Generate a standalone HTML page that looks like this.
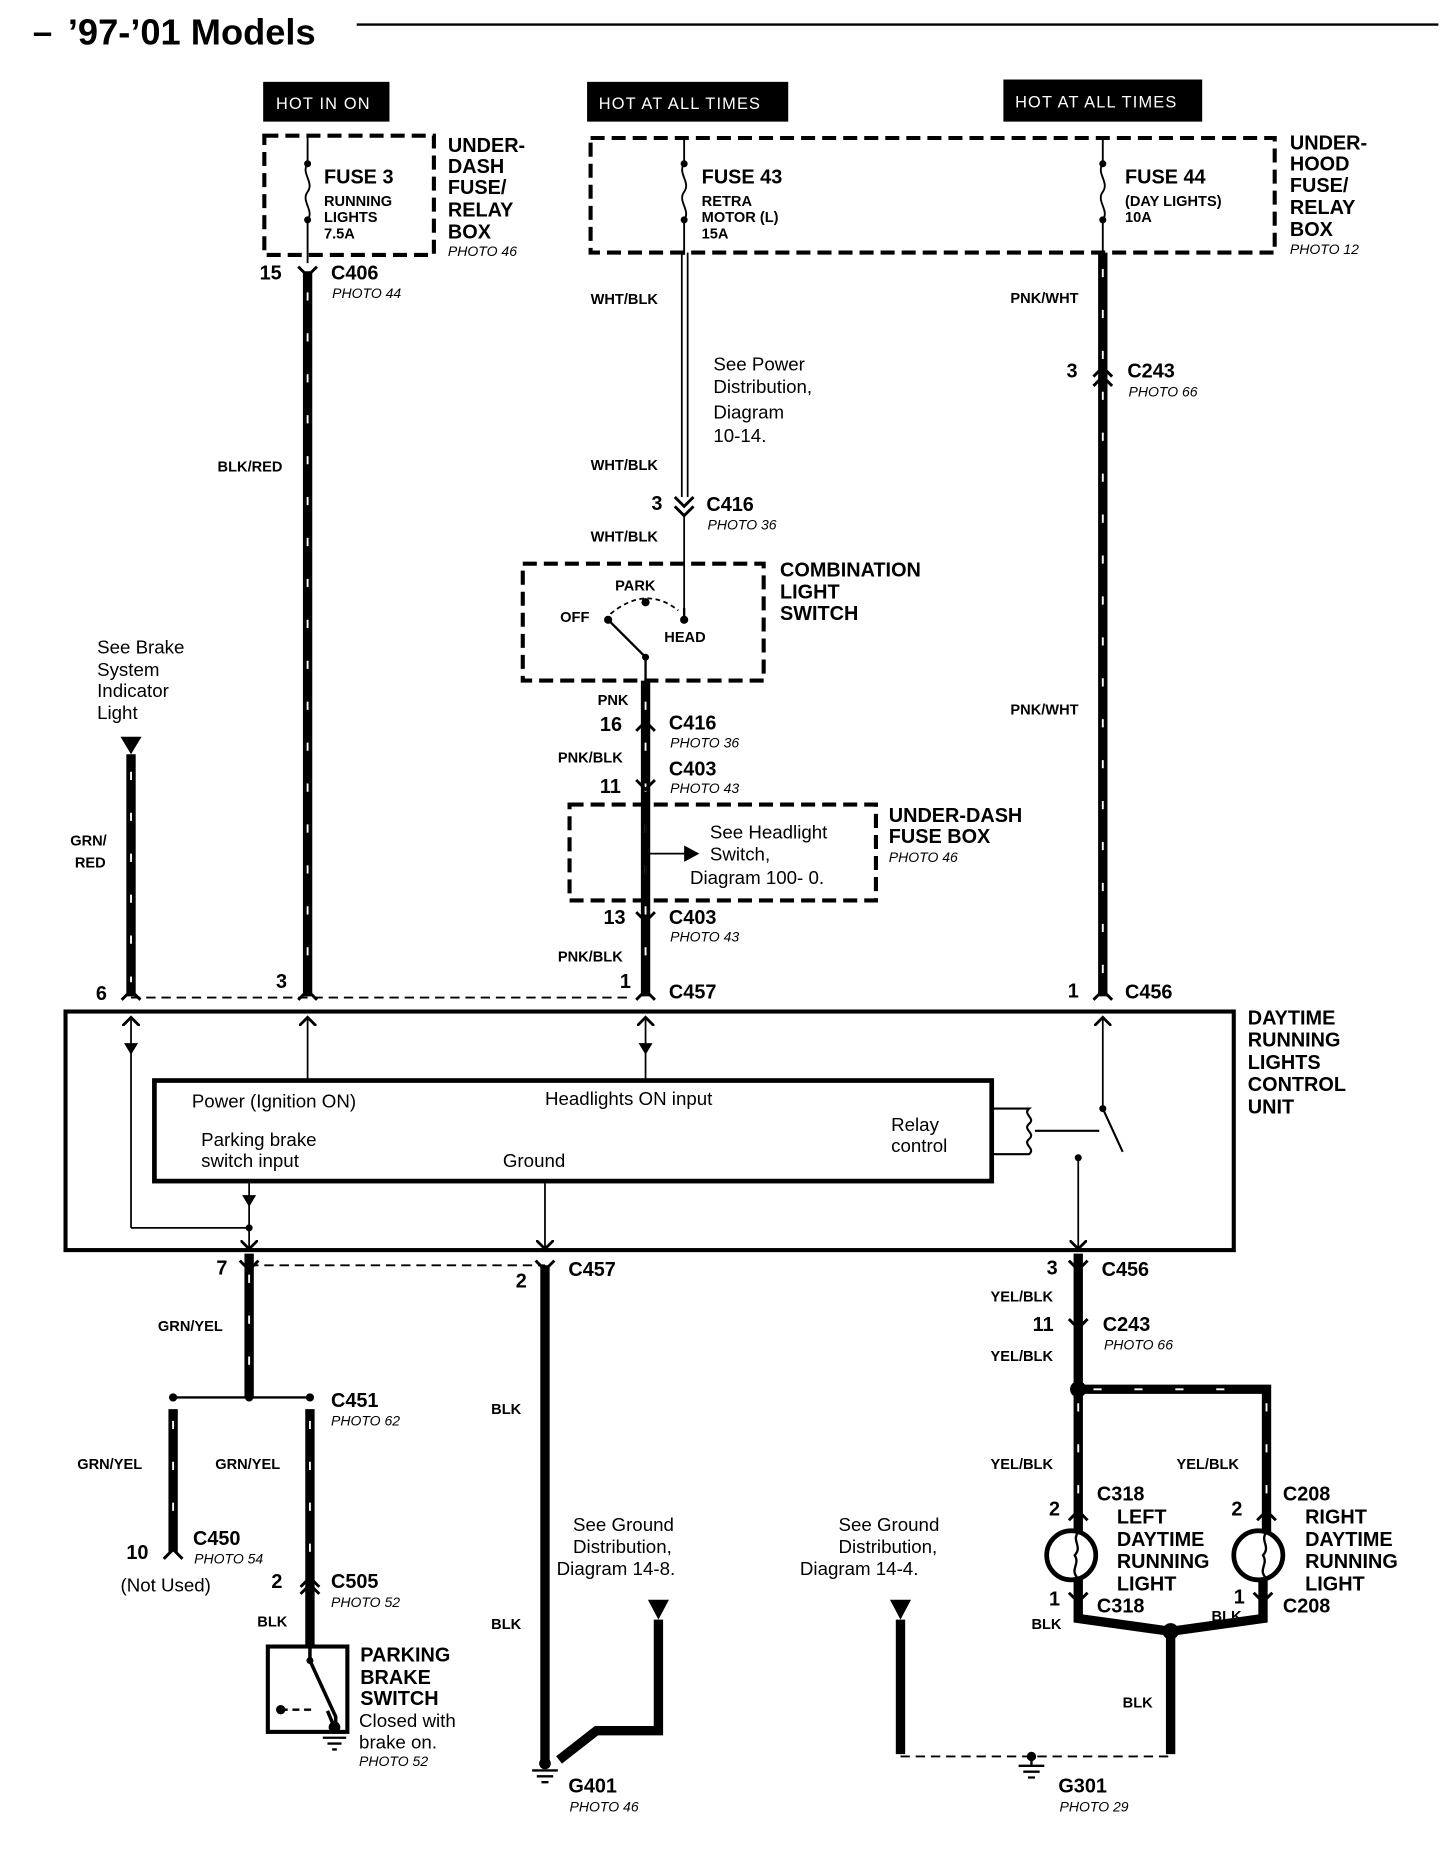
<!DOCTYPE html>
<html><head><meta charset="utf-8"><style>
html,body{margin:0;padding:0;background:#fff;}
svg{display:block;}
text{font-family:"Liberation Sans",Arial,sans-serif;fill:#000;}
.b{font-weight:bold;}
.h{font-size:17px;font-weight:bold;}
.s{font-size:12.5px;font-weight:bold;}
.p{font-size:12px;font-style:italic;}
.n{font-size:16px;}
.w{fill:#fff;font-size:14px;letter-spacing:1px;}
</style></head><body>
<svg width="1456" height="1850" viewBox="0 0 1245 1582" xmlns="http://www.w3.org/2000/svg">
<defs>
<marker id="ar" viewBox="0 0 10 10" refX="5" refY="5" markerWidth="10" markerHeight="10" orient="auto"><path d="M0,0 L5,5 L0,10" fill="none" stroke="#000" stroke-width="1.6"/></marker>
</defs>
<!-- title -->
<text x="28" y="37" font-size="30" class="b">–</text>
<text x="58" y="38" font-size="31" class="b">’97-’01 Models</text>
<line x1="305" y1="21" x2="1230" y2="21" stroke="#000" stroke-width="2"/>
<!-- hot labels -->
<rect x="225" y="70" width="108" height="34" fill="#000"/><text class="w" x="236" y="93">HOT IN ON</text>
<rect x="502" y="70" width="172" height="34" fill="#000"/><text class="w" x="512" y="93">HOT AT ALL TIMES</text>
<rect x="858" y="68" width="170" height="36" fill="#000"/><text class="w" x="868" y="92">HOT AT ALL TIMES</text>
<!-- fuse boxes -->
<g fill="none" stroke="#000" stroke-width="3.5" stroke-dasharray="12 6">
<rect x="226" y="116" width="145" height="102"/>
<rect x="505" y="118" width="585" height="98"/>
<rect x="447" y="482" width="206" height="100"/>
<rect x="487" y="688" width="262" height="82"/>
</g>
<g fill="none" stroke="#000" stroke-width="1.6">
<path d="M263 116 V140 c-6 8 6 16 0 24 c-6 8 6 16 0 24 V225"/>
<path d="M585 118 V140 c-6 8 6 16 0 24 c-6 8 6 16 0 24 V218"/>
<path d="M943 118 V140 c-6 8 6 16 0 24 c-6 8 6 16 0 24 V218"/>
</g>
<g fill="#000"><circle cx="263" cy="140" r="3"/><circle cx="263" cy="188" r="3"/><circle cx="585" cy="140" r="3"/><circle cx="585" cy="188" r="3"/><circle cx="943" cy="140" r="3"/><circle cx="943" cy="188" r="3"/></g>
<text class="h" x="277" y="157">FUSE 3</text><text class="s" x="277" y="176">RUNNING</text><text class="s" x="277" y="190">LIGHTS</text><text class="s" x="277" y="204">7.5A</text>
<text class="h" x="600" y="157">FUSE 43</text><text class="s" x="600" y="176">RETRA</text><text class="s" x="600" y="190">MOTOR (L)</text><text class="s" x="600" y="204">15A</text>
<text class="h" x="962" y="157">FUSE 44</text><text class="s" x="962" y="176">(DAY LIGHTS)</text><text class="s" x="962" y="190">10A</text>
<g class="h"><text x="383" y="130">UNDER-</text><text x="383" y="148">DASH</text><text x="383" y="166">FUSE/</text><text x="383" y="185">RELAY</text><text x="383" y="204">BOX</text></g>
<text class="p" x="383" y="219">PHOTO 46</text>
<g class="h"><text x="1103" y="128">UNDER-</text><text x="1103" y="146">HOOD</text><text x="1103" y="164">FUSE/</text><text x="1103" y="183">RELAY</text><text x="1103" y="202">BOX</text></g>
<text class="p" x="1103" y="217">PHOTO 12</text>
<!-- thick wires -->
<g stroke="#000" stroke-width="8" fill="none">
<path d="M263 232 V852"/><path d="M943 216 V852"/><path d="M552 582 V852"/><path d="M112 645 V852"/>
<path d="M213 1072 V1195"/><path d="M148 1205 V1327"/><path d="M265 1205 V1407"/>
<path d="M466 1082 V1505"/><path d="M922 1072 V1310"/><path d="M922 1188 H1083 V1310"/>
<path d="M922 1350 V1384 L1001 1395 L1080 1384 V1350"/><path d="M1001 1395 V1500"/>
<path d="M770 1385 V1500"/><path d="M563 1385 V1480 H510 L478 1505"/>
</g>
<g stroke="#fff" stroke-width="1.6" stroke-dasharray="7 28" fill="none">
<path d="M263 250 V840"/><path d="M943 230 V840"/><path d="M112 660 V840"/><path d="M213 1090 V1185"/><path d="M148 1215 V1320"/><path d="M265 1215 V1340"/><path d="M922 1200 V1300"/><path d="M935 1188 H1075 M1083 1200 V1300"/><path d="M552 600 V840"/>
</g>
<!-- WHT/BLK double wire -->
<path d="M583 216 V425 M588 216 V425" stroke="#000" stroke-width="1.5"/>
<path d="M585 440 V530" stroke="#000" stroke-width="1.5"/>
<!-- connectors -->
<g stroke="#000" stroke-width="2.5" fill="none">
<path d="M255 228 L263 236 L271 228"/><path d="M935 322 L943 314 L951 322 M935 330 L943 322 L951 330"/>
<path d="M577 425 L585 433 L593 425 M577 433 L585 441 L593 433"/>
<path d="M544 625 L552 617 L560 625 M544 667 L552 675 L560 667"/>
<path d="M544 780 L552 788 L560 780 M104 855 L112 847 L120 855 M255 855 L263 847 L271 855 M544 855 L552 847 L560 855 M935 855 L943 847 L951 855"/>
<path d="M205 1078 L213 1086 L221 1078 M458 1078 L466 1086 L474 1078 M914 1078 L922 1086 L930 1078 M914 1128 L922 1136 L930 1128"/>
<path d="M140 1333 L148 1325 L156 1333 M257 1357 L265 1349 L273 1357 M257 1363 L265 1355 L273 1363"/>
<path d="M914 1300 L922 1292 L930 1300 M1075 1300 L1083 1292 L1091 1300 M914 1362 L922 1370 L930 1362 M1072 1362 L1080 1370 L1088 1362"/>
</g>
<path d="M112 853 H540 M213 1082 H466 M770 1502 H1001" stroke="#000" stroke-width="1.6" stroke-dasharray="8 5"/>
<!-- switch -->
<path d="M585 530 V520 M520 530 L552 562 V582" stroke="#000" stroke-width="2" fill="none"/>
<path d="M522 525 Q552 500 580 522" stroke="#000" stroke-width="1.5" stroke-dasharray="4 3" fill="none"/>
<g fill="#000"><circle cx="520" cy="530" r="3.5"/><circle cx="552" cy="515" r="3.5"/><circle cx="585" cy="530" r="3.5"/><circle cx="552" cy="562" r="3"/></g>
<!-- under-dash fuse box internals -->
<path d="M552 688 V770 M552 730 H595" stroke="#000" stroke-width="1.5"/><path d="M585 723 L598 730 L585 737Z"/>
<!-- arrows -->
<path d="M103 630 H121 L112 645Z M554 1368 H572 L563 1385Z M761 1368 H779 L770 1385Z"/>
<!-- control unit -->
<rect x="56" y="865" width="999" height="204" fill="none" stroke="#000" stroke-width="3.5"/>
<rect x="132" y="924" width="716" height="86" fill="none" stroke="#000" stroke-width="4"/>
<g stroke="#000" stroke-width="1.5" fill="none" marker-end="url(#ar)">
<path d="M263 924 V870"/><path d="M112 1050 V870"/><path d="M552 924 V870"/><path d="M943 948 V870"/>
<path d="M213 1012 V1068"/><path d="M466 1012 V1068"/><path d="M922 990 V1068"/>
</g>
<path d="M112 1050 H213" stroke="#000" stroke-width="1.5"/>
<g fill="#000"><path d="M106 892 H118 L112 902Z M546 892 H558 L552 902Z M207 1022 H219 L213 1032Z"/><circle cx="213" cy="1050" r="3"/><circle cx="943" cy="948" r="3"/><circle cx="922" cy="990" r="3"/></g>
<path d="M848 948 H880 c-6 5 6 8 0 13 c-6 5 6 8 0 13 c-6 5 6 8 0 13 H848 M943 948 L960 985 M885 967 H940" stroke="#000" stroke-width="1.8" fill="none"/>
<g class="n"><text x="164" y="947">Power (Ignition ON)</text><text x="466" y="945">Headlights ON input</text><text x="172" y="980">Parking brake</text><text x="172" y="998">switch input</text><text x="430" y="998">Ground</text><text x="762" y="967">Relay</text><text x="762" y="985">control</text></g>
<g class="h"><text x="1067" y="876">DAYTIME</text><text x="1067" y="895">RUNNING</text><text x="1067" y="914">LIGHTS</text><text x="1067" y="933">CONTROL</text><text x="1067" y="952">UNIT</text></g>
<!-- junction bottom left -->
<path d="M148 1195 H265" stroke="#000" stroke-width="2"/><g fill="#000"><circle cx="148" cy="1195" r="3.5"/><circle cx="213" cy="1195" r="3.5"/><circle cx="265" cy="1195" r="3.5"/><circle cx="922" cy="1188" r="7"/><circle cx="1001" cy="1395" r="7"/></g>
<!-- parking brake switch -->
<rect x="229" y="1408" width="68" height="73" fill="none" stroke="#000" stroke-width="3.5"/>
<path d="M265 1407 V1420 L287 1468 V1478 M280 1463 L285 1475" stroke="#000" stroke-width="3" fill="none"/>
<path d="M240 1462 H270" stroke="#000" stroke-width="2" stroke-dasharray="6 4"/>
<g fill="#000"><circle cx="265" cy="1420" r="3"/><circle cx="240" cy="1462" r="4"/><circle cx="286" cy="1477" r="5"/><circle cx="466" cy="1508" r="5"/></g>
<g stroke="#000" stroke-width="2"><path d="M276 1486 H296 M280 1491 H292 M284 1496 H288"/><path d="M455 1514 H477 M459 1519 H473 M463 1524 H469"/><path d="M871 1510 H893 M875 1515 H889 M879 1520 H885"/><path d="M882 1502 V1510"/></g>
<circle cx="882" cy="1502" r="4"/>
<!-- lamps -->
<g fill="none" stroke="#000"><circle cx="916" cy="1330" r="21" stroke-width="4"/><circle cx="1076" cy="1330" r="21" stroke-width="4"/>
<path d="M922 1310 c-6 8 4 12 -3 20 c5 8 -5 12 3 20 M1083 1310 c-6 8 4 12 -3 20 c5 8 -5 12 3 20" stroke-width="2"/></g>
<!-- labels -->
<g class="h"><text x="222" y="239">15</text><text x="283" y="239">C406</text><text x="557" y="436">3</text><text x="604" y="437">C416</text>
<text x="513" y="625">16</text><text x="572" y="624">C416</text><text x="572" y="663">C403</text><text x="513" y="678">11</text>
<text x="516" y="790">13</text><text x="572" y="790">C403</text><text x="530" y="845">1</text><text x="572" y="854">C457</text>
<text x="912" y="323">3</text><text x="964" y="323">C243</text><text x="913" y="853">1</text><text x="962" y="854">C456</text>
<text x="82" y="855">6</text><text x="236" y="845">3</text>
<text x="185" y="1090">7</text><text x="486" y="1091">C457</text><text x="441" y="1101">2</text><text x="895" y="1090">3</text><text x="942" y="1091">C456</text>
<text x="883" y="1138">11</text><text x="943" y="1138">C243</text><text x="283" y="1203">C451</text><text x="165" y="1321">C450</text><text x="108" y="1333">10</text>
<text x="232" y="1358">2</text><text x="283" y="1358">C505</text>
<text x="897" y="1296">2</text><text x="938" y="1283">C318</text><text x="1053" y="1296">2</text><text x="1097" y="1283">C208</text>
<text x="897" y="1373">1</text><text x="938" y="1379">C318</text><text x="1055" y="1371">1</text><text x="1097" y="1379">C208</text>
<text x="955" y="1303">LEFT</text><text x="955" y="1322">DAYTIME</text><text x="955" y="1341">RUNNING</text><text x="955" y="1360">LIGHT</text>
<text x="1116" y="1303">RIGHT</text><text x="1116" y="1322">DAYTIME</text><text x="1116" y="1341">RUNNING</text><text x="1116" y="1360">LIGHT</text>
<text x="308" y="1421">PARKING</text><text x="308" y="1440">BRAKE</text><text x="308" y="1458">SWITCH</text>
<text x="486" y="1533">G401</text><text x="905" y="1533">G301</text>
<text x="667" y="493">COMBINATION</text><text x="667" y="512">LIGHT</text><text x="667" y="530">SWITCH</text>
<text x="760" y="703">UNDER-DASH</text><text x="760" y="721">FUSE BOX</text></g>
<g class="p"><text x="284" y="255">PHOTO 44</text><text x="605" y="453">PHOTO 36</text><text x="573" y="639">PHOTO 36</text><text x="573" y="678">PHOTO 43</text><text x="760" y="737">PHOTO 46</text>
<text x="573" y="805">PHOTO 43</text><text x="965" y="339">PHOTO 66</text><text x="944" y="1154">PHOTO 66</text><text x="283" y="1219">PHOTO 62</text><text x="166" y="1337">PHOTO 54</text>
<text x="283" y="1374">PHOTO 52</text><text x="307" y="1510">PHOTO 52</text><text x="487" y="1549">PHOTO 46</text><text x="906" y="1549">PHOTO 29</text></g>
<g class="s"><text x="505" y="260">WHT/BLK</text><text x="505" y="402">WHT/BLK</text><text x="505" y="463">WHT/BLK</text><text x="186" y="403">BLK/RED</text>
<text x="864" y="259">PNK/WHT</text><text x="864" y="611">PNK/WHT</text><text x="526" y="505">PARK</text><text x="479" y="532">OFF</text><text x="568" y="549">HEAD</text>
<text x="511" y="603">PNK</text><text x="477" y="652">PNK/BLK</text><text x="477" y="822">PNK/BLK</text><text x="60" y="723">GRN/</text><text x="64" y="742">RED</text>
<text x="135" y="1138">GRN/YEL</text><text x="66" y="1256">GRN/YEL</text><text x="184" y="1256">GRN/YEL</text><text x="220" y="1391">BLK</text><text x="420" y="1209">BLK</text><text x="420" y="1393">BLK</text>
<text x="847" y="1113">YEL/BLK</text><text x="847" y="1164">YEL/BLK</text><text x="847" y="1256">YEL/BLK</text><text x="1006" y="1256">YEL/BLK</text>
<text x="882" y="1393">BLK</text><text x="1036" y="1386">BLK</text><text x="960" y="1460">BLK</text></g>
<g class="n" font-size="17"><text x="610" y="317">See Power</text><text x="610" y="336">Distribution,</text><text x="610" y="358">Diagram</text><text x="610" y="378">10-14.</text>
<text x="83" y="559">See Brake</text><text x="83" y="578">System</text><text x="83" y="596">Indicator</text><text x="83" y="615">Light</text>
<text x="607" y="717">See Headlight</text><text x="607" y="736">Switch,</text><text x="590" y="756">Diagram 100- 0.</text>
<text x="103" y="1361">(Not Used)</text><text x="307" y="1477">Closed with</text><text x="307" y="1495">brake on.</text>
<text x="490" y="1309">See Ground</text><text x="490" y="1328">Distribution,</text><text x="476" y="1347">Diagram 14-8.</text>
<text x="717" y="1309">See Ground</text><text x="717" y="1328">Distribution,</text><text x="684" y="1347">Diagram 14-4.</text></g>
</svg>
</body></html>
